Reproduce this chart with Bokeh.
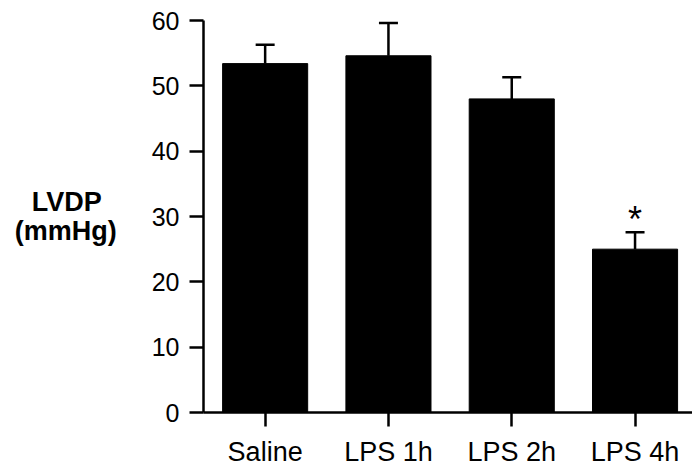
from bokeh.plotting import figure
from bokeh.models import Range1d, FixedTicker, ColumnDataSource
from bokeh.embed import file_html
from bokeh.resources import INLINE
from bokeh.core.properties import value

categories = ["Saline", "LPS 1h", "LPS 2h", "LPS 4h"]
means = [53.4, 54.6, 48.0, 25.0]
errors = [2.9, 5.0, 3.3, 2.6]
significant = [False, False, False, True]
y_ticks = [0, 10, 20, 30, 40, 50, 60]
y_title = ["LVDP\u00a0\u00a0", "(mmHg)"]

FONT = "Liberation Sans"

xs = [i + 0.5 for i in range(len(categories))]
tops = [m + e for m, e in zip(means, errors)]
cap_half = 0.077
bar_w = 0.69

p = figure(width=692, height=469, output_backend="svg", toolbar_location=None,
           x_range=Range1d(0, 3.966), y_range=Range1d(0, 60),
           min_border_left=203, min_border_right=0, min_border_top=20, min_border_bottom=54)
p.outline_line_color = None
p.xgrid.visible = False
p.ygrid.visible = False
p.background_fill_color = "white"
p.border_fill_color = "white"

src = ColumnDataSource(dict(x=xs, top=means, err_top=tops,
                            cl=[x - cap_half for x in xs], cr=[x + cap_half for x in xs]))

p.segment(x0="x", y0="top", x1="x", y1="err_top", source=src, line_color="black", line_width=2.5)
p.segment(x0="cl", y0="err_top", x1="cr", y1="err_top", source=src, line_color="black", line_width=2.5)
p.vbar(x="x", top="top", bottom=0, width=bar_w, source=src, fill_color="black", line_color="black", line_width=1)

sx = [x for x, s in zip(xs, significant) if s]
sy = [t + 1.9 for t, s in zip(tops, significant) if s]
p.text(x=sx, y=sy, text=["*"] * len(sx), text_font=value(FONT), text_font_size="36px",
       text_align="center", text_baseline="alphabetic", text_color="black")

for ax in (p.xaxis, p.yaxis):
    ax.axis_line_width = 2.5
    ax.major_tick_line_width = 2.5
    ax.major_tick_in = 0
    ax.major_tick_out = 14
    ax.minor_tick_line_color = None
    ax.major_label_text_font = FONT
    ax.major_label_text_color = "black"
    ax.axis_line_color = "black"
    ax.major_tick_line_color = "black"

p.yaxis.major_label_text_font_size = "25px"
p.xaxis.major_label_text_font_size = "27px"
p.yaxis.ticker = FixedTicker(ticks=y_ticks)
p.yaxis.major_label_standoff = 10
p.xaxis.ticker = FixedTicker(ticks=xs)
p.xaxis.major_label_overrides = {x: c for x, c in zip(xs, categories)}
p.xaxis.major_label_standoff = 10

p.yaxis.axis_label = "\n".join(y_title)
p.yaxis.axis_label_orientation = "horizontal"
p.yaxis.axis_label_text_font = FONT
p.yaxis.axis_label_text_font_size = "27px"
p.yaxis.axis_label_text_font_style = "bold"
p.yaxis.axis_label_text_color = "black"
p.yaxis.axis_label_text_line_height = 0.96
p.yaxis.axis_label_standoff = 32

open("out.html", "w").write(file_html(p, INLINE))
